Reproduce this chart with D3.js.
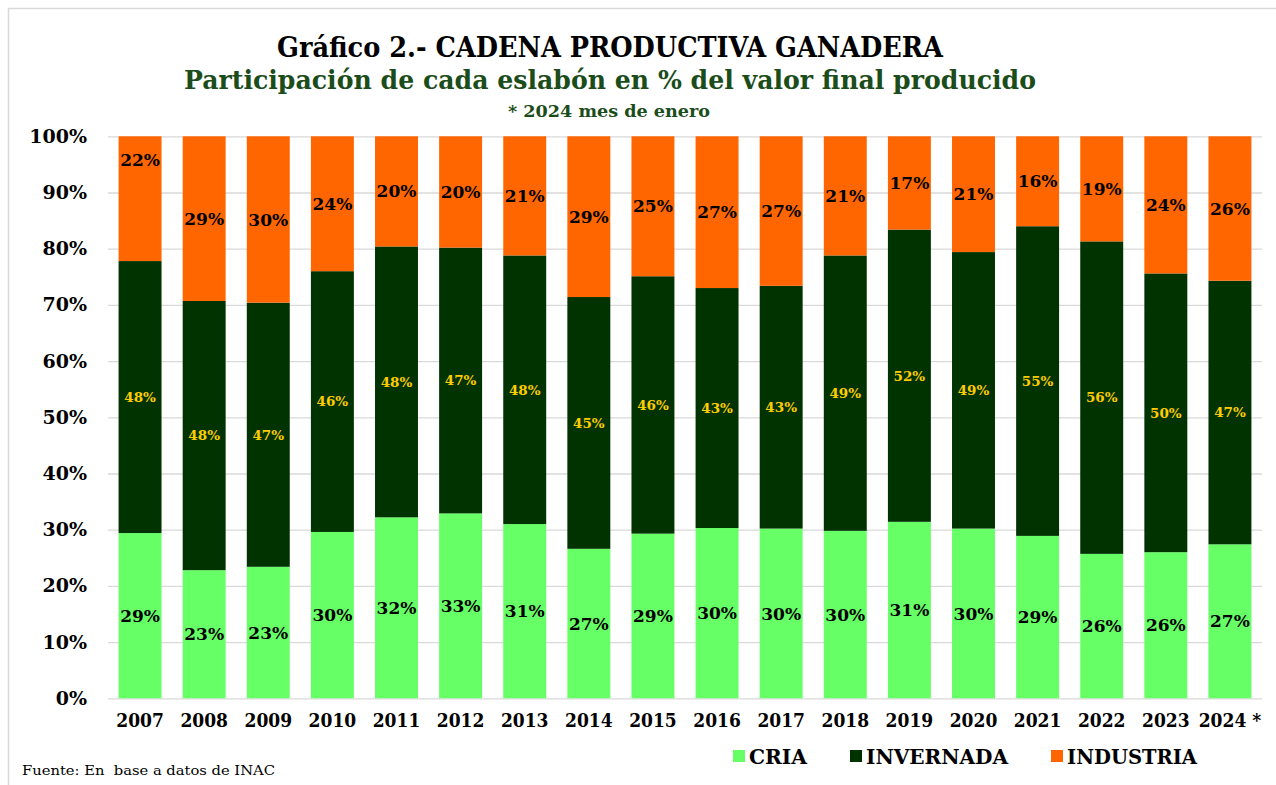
<!DOCTYPE html>
<meta charset="utf-8">
<head>
<style>
body { margin: 0; background: #fff; }
.slab { font-family: "DejaVu Serif", serif; font-weight: bold; }
.cond { font-family: "DejaVu Serif Condensed", "DejaVu Serif", serif; font-stretch: semi-condensed; font-weight: bold; }
.grid line { stroke: #d9d9d9; stroke-width: 1.3; }
.grid path { display: none; }
</style>
</head>
<body>
<script src="https://cdnjs.cloudflare.com/ajax/libs/d3/7.8.5/d3.min.js"></script>
<script>
//--------------------------- DATA ---------------------------//
var years = ["2007","2008","2009","2010","2011","2012","2013","2014","2015",
             "2016","2017","2018","2019","2020","2021","2022","2023","2024 *"];
// share of the final value, in %
var cria      = [29.4,22.8,23.4,29.6,32.2,32.9,31.0,26.6,29.3,30.3,30.2,29.8,31.4,30.2,28.9,25.7,26.0,27.4];
var invernada = [48.4,47.9,47.0,46.4,48.2,47.3,47.8,44.8,45.8,42.7,43.2,49.0,52.0,49.2,55.1,55.6,49.6,46.9];
var industria = [22.2,29.3,29.6,24.0,19.6,19.8,21.2,28.6,24.9,27.0,26.6,21.2,16.6,20.6,16.0,18.7,24.4,25.7];
var seriesNames = ["CRIA","INVERNADA","INDUSTRIA"];
var yTicks = [0,10,20,30,40,50,60,70,80,90,100];

var title = "Gráfico 2.- CADENA PRODUCTIVA GANADERA";
var subtitle = "Participación de cada eslabón en % del valor final producido";
var note = "* 2024 mes de enero";
var source = "Fuente: En  base a datos de INAC";

//--------------------------- SETUP --------------------------//
var width = 1276, height = 785;
var colors = ["#66ff66", "#003300", "#ff6600"];
var labelColors = ["#000", "#ffcc00", "#000"];
var labelSize = [17, 13.5, 17];

var svg = d3.select("body").append("svg")
    .attr("width", width)
    .attr("height", height);

// frame of the pasted chart
svg.append("path")
    .attr("d", "M8.5," + height + "V8.5H" + width)
    .attr("fill", "none")
    .attr("stroke", "#d9d9d9")
    .attr("stroke-width", 1.5);

var table = years.map(function(y, i) {
    return { year: y, CRIA: cria[i], INVERNADA: invernada[i], INDUSTRIA: industria[i] };
});
var stacked = d3.stack().keys(seriesNames)(table);

//--------------------------- SCALES -------------------------//
var x = d3.scaleBand().domain(years).range([108, 1262])
    .paddingInner(0.33).paddingOuter(0.165);
var y = d3.scaleLinear().domain([0, 100]).range([698.3, 136.3]);

//---------------------------- AXES --------------------------//
var yAxis = svg.append("g")
    .attr("class", "grid")
    .attr("transform", "translate(108,0)")
    .call(d3.axisLeft(y).tickValues(yTicks).tickSize(-1154).tickPadding(21)
          .tickFormat(function(d) { return d + "%"; }));
yAxis.selectAll("text")
    .attr("class", "slab")
    .style("font-size", "19px")
    .attr("fill", "#000");

var xAxis = svg.append("g")
    .attr("transform", "translate(0,698.3)")
    .call(d3.axisBottom(x).tickSize(0).tickPadding(15));
xAxis.select(".domain").remove();
xAxis.selectAll("text")
    .attr("class", "cond")
    .style("font-size", "19px")
    .attr("fill", "#000");

//---------------------------- BARS --------------------------//
var layers = svg.selectAll(".layer")
    .data(stacked)
    .enter().append("g")
    .attr("class", "layer")
    .attr("fill", function(d, i) { return colors[i]; });

layers.selectAll("rect")
    .data(function(d) { return d; })
    .enter().append("rect")
    .attr("x", function(d) { return x(d.data.year); })
    .attr("width", x.bandwidth())
    .attr("y", function(d) { return y(d[1]); })
    .attr("height", function(d) { return y(d[0]) - y(d[1]); });

// value labels
stacked.forEach(function(s, si) {
    svg.append("g").selectAll("text")
        .data(s)
        .enter().append("text")
        .attr("class", "slab")
        .attr("text-anchor", "middle")
        .attr("dy", "0.36em")
        .style("font-size", labelSize[si] + "px")
        .attr("fill", labelColors[si])
        .attr("x", function(d) { return x(d.data.year) + x.bandwidth() / 2; })
        .attr("y", function(d, i) {
            // the 2007 industria label sits near the top in the original
            if (si == 2 && i == 0) return y(95.8);
            return y((d[0] + d[1]) / 2);
        })
        .text(function(d) { return Math.round(d[1] - d[0]) + "%"; });
});

//---------------------------- TITLES ------------------------//
svg.append("text")
    .attr("class", "cond")
    .attr("x", 610).attr("y", 57)
    .attr("text-anchor", "middle")
    .attr("textLength", 666).attr("lengthAdjust", "spacingAndGlyphs")
    .style("font-size", "27px")
    .text(title);

svg.append("text")
    .attr("class", "cond")
    .attr("x", 610).attr("y", 89)
    .attr("text-anchor", "middle")
    .attr("textLength", 852).attr("lengthAdjust", "spacingAndGlyphs")
    .attr("fill", "#1b4d1b")
    .style("font-size", "26px")
    .text(subtitle);

svg.append("text")
    .attr("class", "cond")
    .attr("x", 609).attr("y", 117)
    .attr("text-anchor", "middle")
    .attr("textLength", 202).attr("lengthAdjust", "spacingAndGlyphs")
    .attr("fill", "#1b4d1b")
    .style("font-size", "17px")
    .text(note);

//---------------------------- LEGEND ------------------------//
var legendWidths = [58, 142, 130];
var lx = 733;
seriesNames.forEach(function(name, i) {
    svg.append("rect")
        .attr("x", lx).attr("y", 750)
        .attr("width", 12).attr("height", 12)
        .attr("fill", colors[i]);
    svg.append("text")
        .attr("class", "cond")
        .attr("x", lx + 16).attr("y", 764)
        .attr("textLength", legendWidths[i]).attr("lengthAdjust", "spacingAndGlyphs")
        .style("font-size", "20px")
        .text(name);
    lx += 16 + legendWidths[i] + 43;
});

svg.append("text")
    .attr("class", "cond")
    .attr("x", 22).attr("y", 775)
    .attr("textLength", 253).attr("lengthAdjust", "spacingAndGlyphs")
    .style("font-size", "13px")
    .style("font-weight", "normal")
    .style("white-space", "pre")
    .text(source);
</script>
</body>
</html>
